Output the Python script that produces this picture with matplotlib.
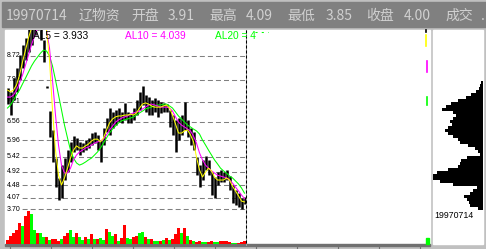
import numpy as np
import matplotlib
matplotlib.use('Agg')
import matplotlib.pyplot as plt
from matplotlib.patches import Rectangle

plt.rcParams['lines.scale_dashes'] = False

W, H = 486, 249

# Quote header of the last day.
Date = '19970714'
Name = '辽物资'
Open, High, Low, Close = 3.91, 4.09, 3.85, 4.00

# Daily highs and lows, oldest first.
Highs = [7.67, 7.54, 7.99, 8.32, 8.75, 9.08, 9.31, 9.63, 10.06, 10.55,
         10.60, 10.22, 9.24, 7.73, 6.91, 6.29, 5.37, 4.72, 5.14, 5.37,
         5.63, 5.90, 6.09, 6.03, 5.90, 5.86, 5.96, 6.03, 6.19, 6.22,
         6.13, 5.96, 6.36, 6.68, 7.01, 6.88, 6.95, 7.01, 6.88, 7.18,
         6.88, 6.85, 7.01, 7.27, 7.54, 7.73, 7.44, 7.37, 7.27, 7.34,
         7.27, 7.21, 7.18, 7.14, 6.95, 6.78, 6.62, 6.68, 6.78, 7.21,
         6.62, 6.36, 6.22, 5.40, 5.14, 5.31, 5.44, 5.31, 4.91, 4.75,
         4.91, 4.98, 4.91, 4.98, 4.78, 4.49, 4.32, 4.22, 4.06, High]
Lows = [7.14, 6.78, 7.27, 7.54, 7.93, 8.32, 8.59, 8.85, 9.08, 9.40,
        9.57, 9.24, 8.52, 7.67, 6.06, 5.24, 4.42, 3.98, 4.06, 4.65,
        4.91, 5.24, 5.57, 5.63, 5.47, 5.57, 5.63, 5.70, 5.80, 5.86,
        5.63, 5.24, 5.80, 6.22, 6.13, 6.36, 6.45, 6.55, 6.52, 6.62,
        6.52, 6.52, 6.62, 6.78, 6.95, 7.11, 6.88, 6.78, 6.78, 6.88,
        6.72, 6.85, 6.88, 6.88, 6.39, 6.13, 5.57, 5.96, 6.13, 6.29,
        6.06, 5.80, 5.63, 4.81, 4.42, 4.65, 4.98, 4.81, 4.16, 4.06,
        4.49, 4.59, 4.59, 4.65, 4.32, 3.90, 3.83, 3.77, 3.70, Low]

# Moving averages as drawn.
MA5 = [7.60, 7.54, 7.60, 7.77, 8.09, 8.52, 8.91, 9.31, 9.63, 9.96,
       10.22, 10.22, 10.06, 9.57, 8.59, 6.95, 5.63, 4.81, 4.49, 4.72,
       5.04, 5.37, 5.63, 5.77, 5.70, 5.70, 5.77, 5.83, 5.93, 5.99,
       5.99, 5.90, 6.03, 6.29, 6.52, 6.65, 6.72, 6.75, 6.75, 6.78,
       6.78, 6.81, 6.78, 6.85, 7.01, 7.14, 7.18, 7.14, 7.08, 7.04,
       7.04, 7.04, 7.08, 7.11, 7.01, 6.78, 6.49, 6.19, 6.19, 6.26,
       6.29, 6.13, 5.90, 5.40, 4.98, 4.75, 4.91, 5.04, 4.95, 4.75,
       4.65, 4.65, 4.65, 4.72, 4.65, 4.45, 4.29, 4.13, 3.96, 3.933]
MA10 = [7.37, 7.37, 7.44, 7.60, 7.83, 8.09, 8.42, 8.75, 9.08, 9.37,
        9.63, 9.83, 9.83, 9.57, 8.98, 7.93, 6.78, 5.80, 5.14, 4.88,
        4.88, 5.04, 5.31, 5.47, 5.57, 5.63, 5.70, 5.73, 5.80, 5.86,
        5.90, 5.93, 5.99, 6.13, 6.29, 6.42, 6.55, 6.62, 6.68, 6.72,
        6.75, 6.81, 6.85, 6.88, 6.91, 6.98, 7.04, 7.11, 7.14, 7.11,
        7.08, 7.04, 7.04, 7.04, 7.01, 6.91, 6.72, 6.55, 6.45, 6.39,
        6.32, 6.26, 6.09, 5.86, 5.54, 5.31, 5.14, 5.04, 4.95, 4.88,
        4.81, 4.78, 4.75, 4.72, 4.65, 4.55, 4.42, 4.29, 4.16, 4.039]
MA20 = [7.01, 7.11, 7.27, 7.44, 7.60, 7.80, 7.99, 8.19, 8.39, 8.55,
        8.68, 8.81, 8.91, 8.88, 8.72, 8.39, 7.93, 7.44, 6.95, 6.45,
        6.03, 5.63, 5.37, 5.21, 5.14, 5.18, 5.24, 5.31, 5.37, 5.47,
        5.57, 5.70, 5.86, 6.03, 6.19, 6.32, 6.42, 6.52, 6.59, 6.62,
        6.65, 6.68, 6.72, 6.78, 6.85, 6.91, 6.98, 7.01, 7.04, 7.08,
        7.11, 7.11, 7.14, 7.14, 7.08, 7.01, 6.88, 6.75, 6.65, 6.55,
        6.45, 6.39, 6.32, 6.26, 6.16, 5.96, 5.80, 5.63, 5.47, 5.31,
        5.18, 5.04, 4.95, 4.88, 4.78, 4.72, 4.62, 4.52, 4.39, 4.22]

# Volume and whether the day closed up (red) or down (green).
Volumes = [4, 8, 11, 14, 21, 18, 28, 33, 30, 14,
           11, 11, 7, 7, 4, 5, 5, 3, 5, 8,
           11, 14, 7, 11, 7, 4, 7, 5, 10, 5,
           5, 6, 4, 15, 12, 8, 10, 3, 6, 19,
           6, 5, 7, 8, 11, 12, 7, 5, 5, 3,
           3, 3, 4, 6, 4, 5, 10, 16, 11, 16,
           8, 4, 3, 2, 3, 2, 2, 2, 3, 2,
           2, 3, 3, 3, 2, 1, 1, 1, 2, 3]
UpDays = [1, 1, 1, 1, 1, 0, 1, 1, 0, 0,
          1, 0, 0, 1, 0, 1, 1, 1, 0, 1,
          1, 0, 0, 1, 0, 0, 1, 0, 1, 0,
          1, 0, 0, 1, 0, 0, 1, 0, 1, 1,
          0, 0, 1, 1, 0, 0, 1, 0, 1, 0,
          0, 1, 0, 1, 0, 1, 1, 1, 0, 1,
          0, 1, 0, 1, 1, 0, 0, 1, 1, 0,
          0, 1, 1, 1, 1, 0, 0, 1, 1, 1]

GridLevels = [3.70, 4.07, 4.48, 4.92, 5.42, 5.96, 6.56, 7.21, 7.93, 8.72]

# Volume-by-price profile, top bin first.
ProfileTop, ProfileStep = 7.85, 0.0984
ProfileVol = [2, 3, 4, 7, 12, 17, 25, 32, 37, 41,
              30, 27, 30, 33, 31, 35, 38, 35, 30, 25,
              23, 15, 8, 5, 3, 16, 22, 23, 25, 35,
              46, 50, 50, 43, 30, 6, 10, 13, 19, 16,
              14, 13, 5]

PriceTop, PriceBottom = 9.569, 2.520
FontCJK = ['Noto Sans CJK SC', 'DejaVu Sans']


def px_axes(fig, x0, y0, x1, y1, z):
    ax = fig.add_axes([x0 / W, 1 - y1 / H, (x1 - x0) / W, (y1 - y0) / H])
    ax.set_zorder(z)
    ax.patch.set_alpha(0)
    ax.axis('off')
    return ax


def main():
    fig = plt.figure(figsize=(W / 100, H / 100), dpi=100, facecolor='#c0c0c0')

    # Window frame in pixel coordinates.
    bg = px_axes(fig, 0, 0, W, H, 0)
    bg.set_xlim(0, W)
    bg.set_ylim(H, 0)
    bg.add_patch(Rectangle((2, 2), W - 2, 25, color='#808080'))
    bg.add_patch(Rectangle((5, 30), 425, 214, color='white'))
    bg.add_patch(Rectangle((433, 30), 50, 214, color='white'))
    bg.add_patch(Rectangle((5, 244), 425, 2, color='#707070'))
    for x in range(10, 430, 41):
        bg.plot([x, x], [246, 248.5], color='#707070', lw=0.8)

    info = [(6, Date), (79, Name), (131, '开盘'), (168, '%.2f' % Open),
            (209, '最高'), (246, '%.2f' % High), (287, '最低'), (326, '%.2f' % Low),
            (366, '收盘'), (404, '%.2f' % Close), (445, '成交'), (481, '.')]
    for x, s in info:
        bg.text(x, 15.5, s, fontsize=10, family=FontCJK, color='#d0d0d0',
                va='center', ha='left')

    idx = np.arange(len(Highs))

    # Price panel.
    ax = px_axes(fig, 6, 30, 246, 245, 1)
    ax.set_xlim(-0.5, len(Highs) - 0.5)
    ax.set_ylim(PriceBottom, PriceTop)
    ax.hlines(GridLevels, -0.5, len(Highs) - 0.5, colors='#808080',
              linewidth=0.75, linestyles=(0, (3.6, 2.2)), zorder=1)
    for level in GridLevels:
        ax.text(-0.35, level, '%.2f' % level, fontsize=5, family='Liberation Sans',
                va='center', ha='left', zorder=2,
                bbox=dict(fc='white', ec='none', pad=0.6))
    ax.vlines(idx, Lows, Highs, color='black', linewidth=1.8, zorder=3)
    ax.plot(idx, MA20, color='#00ff00', lw=0.75, zorder=4)
    ax.plot(idx, MA10, color='#ff00ff', lw=0.75, zorder=4)
    ax.plot(idx, MA5, color='#ffff00', lw=0.75, zorder=4)

    # Volume panel.
    vax = px_axes(fig, 6, 209.7, 246, 243.7, 2)
    vax.set_xlim(-0.5, len(Highs) - 0.5)
    vax.set_ylim(0, 34)
    colors = ['#ff0000' if u else '#00ff00' for u in UpDays]
    vax.bar(idx, Volumes, width=1.0, color=colors, linewidth=0)

    # Volume-by-price panel.
    pax = px_axes(fig, 433, 30, 483, 245, 1)
    pax.set_ylim(PriceBottom, PriceTop)
    pax.set_xlim(50, 0)
    levels = ProfileTop - ProfileStep * np.arange(len(ProfileVol))
    pax.barh(levels, ProfileVol, height=ProfileStep * 0.72, color='black', linewidth=0)

    # Foreground decorations and labels.
    fg = px_axes(fig, 0, 0, W, H, 3)
    fg.set_xlim(0, W)
    fg.set_ylim(H, 0)
    fg.plot([246, 246], [30, 245], color='#a0a0a0', lw=0.75)
    fg.plot([246, 246], [30, 245], color='black', lw=0.75, ls=(0, (2.2, 1.4)))
    fg.text(33, 35.5, 'AL5 = %.3f' % MA5[-1], fontsize=7.3, family='Liberation Sans',
            color='black', va='center', ha='left')
    fg.text(125, 35.5, 'AL10 = %.3f' % MA10[-1], fontsize=7.3, family='Liberation Sans',
            color='#ff00ff', va='center', ha='left')
    fg.text(215, 35.5, 'AL20 = 4', fontsize=7.3, family='Liberation Sans',
            color='#00ff00', va='center', ha='left')
    fg.plot([255, 268], [32, 32], color='#00ff00', lw=0.75, ls=(0, (1.5, 3)))
    fg.plot([426, 426], [35, 46], color='#ffff00', lw=1.2)
    fg.plot([427, 427], [61, 72], color='#ff00ff', lw=1.2)
    fg.plot([426.5, 426.5], [97, 105], color='#00ff00', lw=1.2)
    fg.plot([425.5, 425.5], [30, 32], color='black', lw=1.2)
    fg.add_patch(Rectangle((426, 238), 2.5, 6, color='#00ff00'))
    fg.text(434, 215, Date, fontsize=6.3, family='Liberation Sans', color='black',
            va='center', ha='left')

    fig.savefig('out.png', dpi=100, facecolor=fig.get_facecolor())


if __name__ == '__main__':
    main()
